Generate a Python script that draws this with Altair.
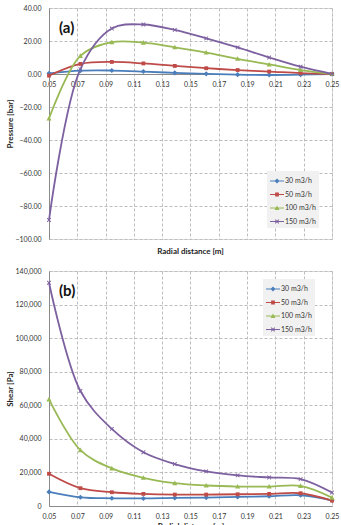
import altair as alt
import pandas as pd

# Radial positions of the computed points [m]
radial = [0.05, 0.0722, 0.0944, 0.1167, 0.1389, 0.1611, 0.1833, 0.2056, 0.2278, 0.25]
x_ticks = [0.05, 0.07, 0.09, 0.11, 0.13, 0.15, 0.17, 0.19, 0.21, 0.23, 0.25]

series_names = ["30 m3/h", "50 m3/h", "100 m3/h", "150 m3/h"]
series_colors = ["#4a7ebb", "#be4b48", "#98b954", "#7d60a0"]

# Pressure [bar]
pressure_30 = [0.4, 2.0, 2.1, 1.5, 0.7, 0.1, -0.4, -0.6, -0.4, 0.0]
pressure_50 = [-1.0, 6.1, 7.3, 6.4, 4.9, 3.5, 2.4, 1.5, 0.5, 0.0]
pressure_100 = [-27.0, 11.0, 19.3, 19.0, 16.2, 13.0, 9.2, 5.8, 2.4, 0.0]
pressure_150 = [-88.5, 3.0, 27.6, 30.0, 26.7, 21.6, 16.1, 10.0, 4.4, 0.0]

# Shear [Pa]
shear_30 = [8400, 5200, 4600, 4500, 4800, 5000, 5400, 5800, 6400, 3400]
shear_50 = [19200, 10600, 8200, 7200, 6800, 6800, 7000, 7200, 7600, 3200]
shear_100 = [63500, 33300, 22400, 16800, 13600, 12200, 11600, 11600, 12000, 5000]
shear_150 = [133000, 68500, 45900, 32000, 25000, 20600, 18200, 17000, 16000, 8000]

FONT = "Lato"
PLOT_W = 283

# marker outlines (unit box -1..1), drawn clockwise so they fill cleanly
DIAMOND = "M0,-{s}L{s},0L0,{s}L-{s},0Z"
SQUARE = "M-{s},-{s}H{s}V{s}H-{s}Z"
TRIANGLE = "M0,-{s}L{s},{t}L-{s},{t}Z"


def x_mark(s):
    pts = [(-1, -0.7), (-0.7, -1), (0, -0.3), (0.7, -1), (1, -0.7), (0.3, 0),
           (1, 0.7), (0.7, 1), (0, 0.3), (-0.7, 1), (-1, 0.7), (-0.3, 0)]
    return "M" + "L".join(f"{px * s:.3f},{py * s:.3f}" for px, py in pts) + "Z"


def markers(s):
    return [
        DIAMOND.format(s=s),
        SQUARE.format(s=round(s * 0.75, 3)),
        TRIANGLE.format(s=s, t=round(s * 0.8, 3)),
        x_mark(s * 0.85),
    ]


plot_markers = markers(1.0)
# legend keys: a short line segment with the series marker on it
LINE_SEG = "M-1,-0.065H1V0.065H-1Z"
legend_keys = [LINE_SEG + m for m in markers(0.36)]


def long_table(columns):
    rows = []
    for name, vals in zip(series_names, columns):
        for r, v in zip(radial, vals):
            rows.append({"r": r, "value": v, "series": name})
    return pd.DataFrame(rows)


color_scale = alt.Scale(domain=series_names, range=series_colors)


def panel(df, tag, y_title, y_domain, y_values, y_format, height, legend_xy, x_axis_at_zero):
    y_lo, y_hi = y_domain
    # bottom axis moved up so that it runs along the zero line
    axis_offset = -(height - height * (y_hi - 0) / (y_hi - y_lo)) if x_axis_at_zero else 0

    x_enc = alt.X(
        "r:Q",
        scale=alt.Scale(domain=[0.05, 0.25], nice=False, zero=False),
        axis=alt.Axis(
            values=x_ticks, format=".2f", labelFontSize=7, labelFont=FONT,
            labelColor="#333", ticks=False, labelPadding=6, labelFlush=False,
            domainColor="#8a8a8a", offset=axis_offset,
            grid=True, gridDash=[3, 2], gridColor="#bdbdbd",
            title=None if x_axis_at_zero else "Radial distance [m]",
            titleFont=FONT, titleFontSize=8, titleFontWeight="bold",
            titleColor="#222", titlePadding=3,
        ),
    )
    y_enc = alt.Y(
        "value:Q",
        scale=alt.Scale(domain=list(y_domain), nice=False, zero=False),
        axis=alt.Axis(
            values=y_values, format=y_format, labelFontSize=7, labelFont=FONT,
            labelColor="#333", ticks=False, labelPadding=8, labelFlush=False,
            minExtent=32, maxExtent=32, domainColor="#8a8a8a",
            grid=True, gridDash=[3, 2], gridColor="#bdbdbd",
            title=y_title, titleFont=FONT, titleFontSize=8,
            titleFontWeight="bold", titleColor="#222", titlePadding=3,
        ),
    )

    legend = alt.Legend(
        orient="none", legendX=legend_xy[0], legendY=legend_xy[1],
        title=None, labelFont=FONT, labelFontSize=7, labelColor="#333",
        symbolSize=196, symbolStrokeWidth=0, rowPadding=3.5,
        labelOffset=1, fillColor="#f1f1f1", padding=3,
    )

    base = alt.Chart(df)
    lines = base.mark_line(interpolate="catmull-rom", strokeWidth=1.8).encode(
        x=x_enc, y=y_enc,
        color=alt.Color("series:N", scale=color_scale, legend=legend),
    )
    layers = [lines]
    for name, col, shape in zip(series_names, series_colors, plot_markers):
        layers.append(
            base.transform_filter(alt.datum.series == name)
            .mark_point(shape=shape, filled=True, size=26, color=col, opacity=1)
            .encode(x=x_enc, y=y_enc)
        )
    legend_layer = (
        base.transform_filter("datum.value > 1e12")
        .mark_point(filled=True, opacity=1)
        .encode(
            x=x_enc, y=y_enc,
            color=alt.Color("series:N", scale=color_scale, legend=legend),
            shape=alt.Shape("series:N", scale=alt.Scale(domain=series_names, range=legend_keys),
                            legend=legend),
        )
    )
    layers.append(legend_layer)

    tag_df = pd.DataFrame({"tag": [tag]})
    tag_text = alt.Chart(tag_df).mark_text(
        align="left", baseline="alphabetic", fontSize=15, fontWeight="bold",
        font=FONT, color="#111",
    ).encode(text="tag:N", x=alt.value(10), y=alt.value(25))
    layers.append(tag_text)

    props = dict(width=PLOT_W, height=height)
    if x_axis_at_zero:
        props["title"] = alt.TitleParams(
            "Radial distance [m]", orient="bottom", frame="group", anchor="middle",
            font=FONT, fontSize=8, fontWeight="bold", color="#222", offset=6,
        )
    return alt.layer(*layers).properties(**props)


pressure_chart = panel(
    long_table([pressure_30, pressure_50, pressure_100, pressure_150]),
    "(a)", "Pressure [bar]", (-100, 40), list(range(-100, 41, 20)), ".2f",
    231, (218, 163), True,
)
shear_chart = panel(
    long_table([shear_30, shear_50, shear_100, shear_150]),
    "(b)", "Shear  [Pa]", (0, 140000), list(range(0, 140001, 20000)), ",.0f",
    235, (214, 8), False,
)

chart = (
    alt.vconcat(pressure_chart, shear_chart, spacing=9)
    .resolve_scale(color="independent", shape="independent")
    .properties(padding={"left": 5, "top": 3, "right": 0, "bottom": 0})
    .configure_view(stroke="#7f7f7f", strokeWidth=1)
    .configure(background="white")
)

chart.save("out.html", embed_options={"renderer": "svg", "actions": False})
